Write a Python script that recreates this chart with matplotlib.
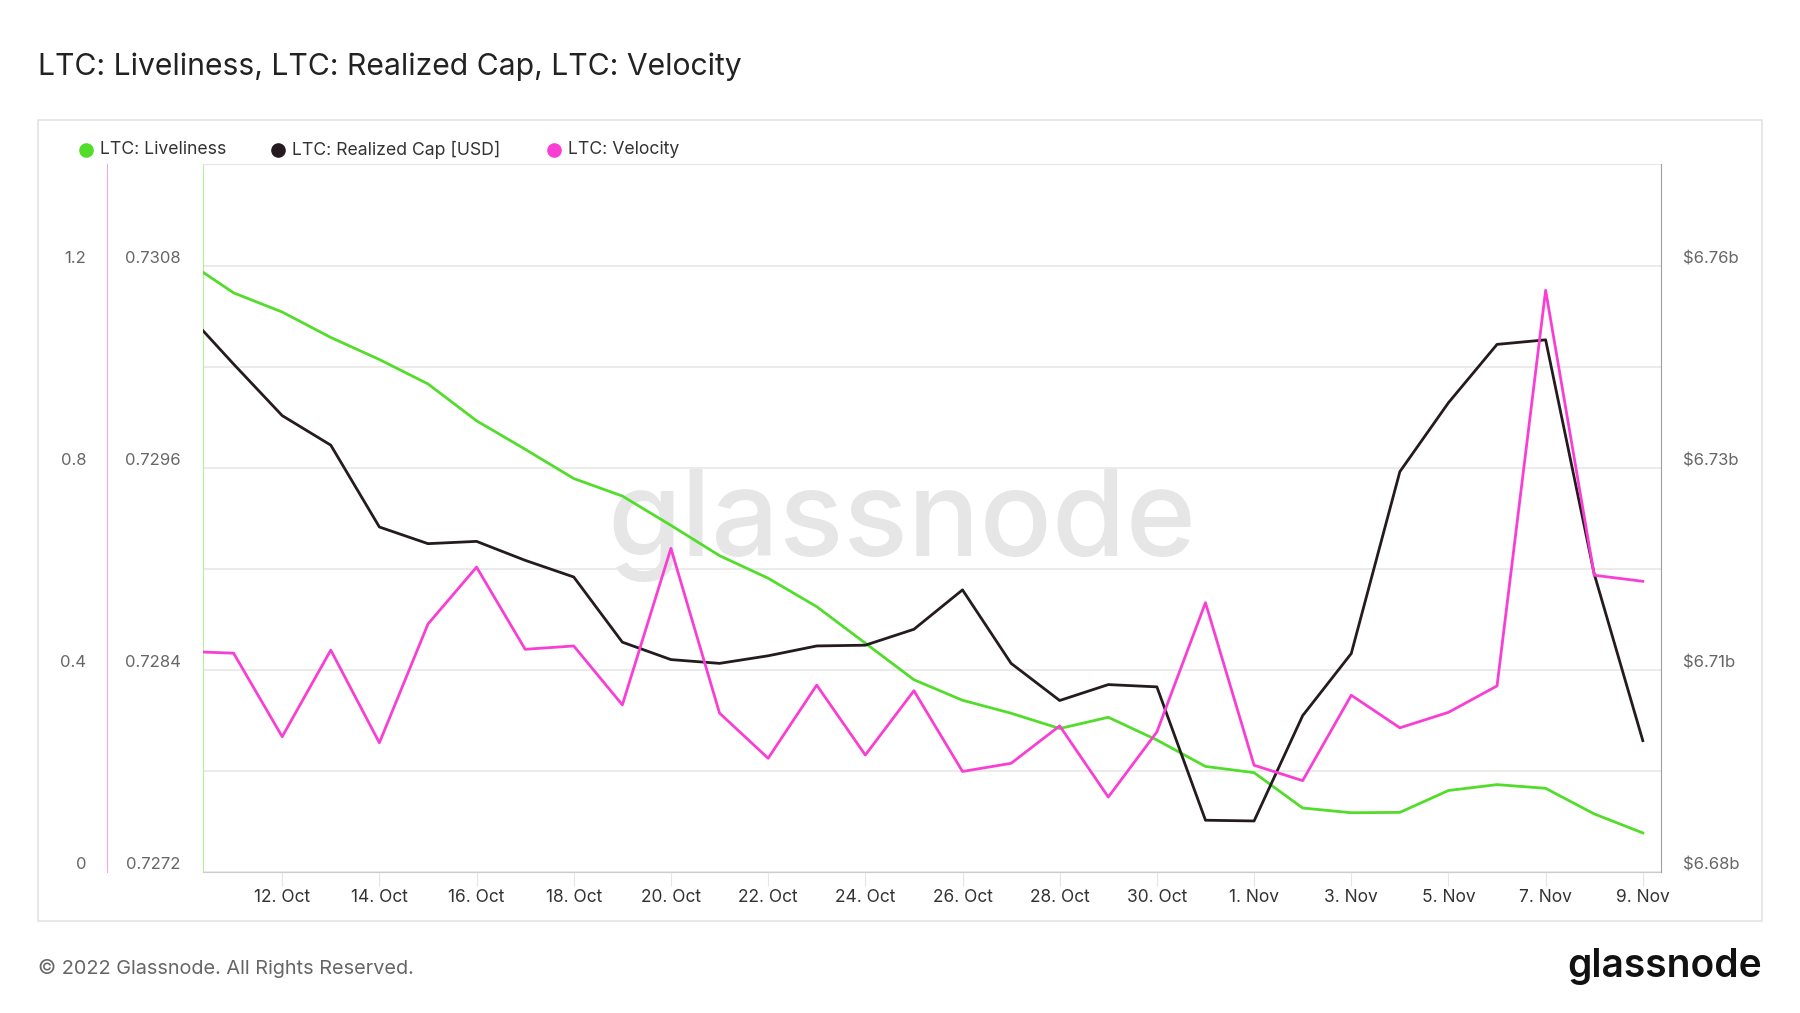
import pandas as pd
import matplotlib
matplotlib.use("Agg")
from matplotlib import pyplot as plt
from matplotlib.lines import Line2D
from matplotlib.patches import Rectangle

plt.rcParams['font.family'] = ['Inter', 'DejaVu Sans']

# daily values, 10 Oct - 9 Nov 2022
dates = pd.date_range('2022-10-10', '2022-11-09', freq='D')
liveliness = [0.730837, 0.730643, 0.730529, 0.730378, 0.730247, 0.730102, 0.729883,
              0.729714, 0.729540, 0.729436, 0.729262, 0.729082, 0.728948, 0.728779,
              0.728562, 0.728345, 0.728223, 0.728146, 0.728055, 0.728122, 0.727987,
              0.727830, 0.727793, 0.727583, 0.727555, 0.727557, 0.727687, 0.727722,
              0.727700, 0.727548, 0.727435]
realized_cap = [6.7541, 6.7471, 6.7403, 6.7364, 6.7256, 6.7234, 6.7237, 6.7212, 6.7190,
                6.7104, 6.7081, 6.7076, 6.7086, 6.7099, 6.7100, 6.7121, 6.7173, 6.7076,
                6.7027, 6.7048, 6.7045, 6.6869, 6.6868, 6.7007, 6.7089, 6.7329, 6.7420,
                6.7497, 6.7503, 6.7194, 6.6974]  # billions USD
velocity = [0.4377, 0.4341, 0.2689, 0.4402, 0.2568, 0.4918, 0.6045, 0.4418, 0.4484,
            0.3318, 0.6416, 0.3155, 0.2261, 0.3709, 0.2325, 0.3598, 0.2000, 0.2161,
            0.2902, 0.1493, 0.2782, 0.5341, 0.2123, 0.1818, 0.3509, 0.2864, 0.3170,
            0.3693, 1.1525, 0.5884, 0.5764]

live_ticks = [0.7272, 0.7284, 0.7296, 0.7308]
live_minor = [0.7278, 0.7290, 0.7302]
cap_ticks = [6.68, 6.70667, 6.73333, 6.76]
cap_labels = ['$6.68b', '$6.71b', '$6.73b', '$6.76b']
vel_ticks = [0, 0.4, 0.8, 1.2]
vel_labels = ['0', '0.4', '0.8', '1.2']
xtick_dates = pd.date_range('2022-10-12', '2022-11-09', freq='2D')
xtick_labels = ['12. Oct', '14. Oct', '16. Oct', '18. Oct', '20. Oct', '22. Oct', '24. Oct',
                '26. Oct', '28. Oct', '30. Oct', '1. Nov', '3. Nov', '5. Nov', '7. Nov', '9. Nov']

green = '#52dd2b'
dark = '#241a1f'
pink = '#f93fd3'
grid_c = '#e6e6e6'
label_c = '#666666'

fig = plt.figure(figsize=(18, 10.13), dpi=100)
ax = fig.add_axes([0.1129, 0.1387, 0.8099, 0.6992])
ax2 = ax.twinx()
ax3 = ax.twinx()

ax.plot(dates, liveliness, color=green, lw=2.0, zorder=3)
ax2.plot(dates, realized_cap, color=dark, lw=2.0, zorder=3)
ax3.plot(dates, velocity, color=pink, lw=2.0, zorder=3)

ax.set_xlim(pd.Timestamp('2022-10-10') + pd.Timedelta(hours=9),
            pd.Timestamp('2022-11-09') + pd.Timedelta(hours=9))
ax.set_ylim(0.7272, 0.731407)
ax2.set_ylim(6.68, 6.77348)
ax3.set_ylim(0, 1.402)

# liveliness axis (inner left)
ax.set_yticks(live_ticks, [f'{t:.4f}' for t in live_ticks])
ax.set_yticks(live_minor, minor=True)
ax.grid(True, which='both', axis='y', color=grid_c, lw=1.1)
ax.tick_params(axis='y', which='both', length=0, pad=16, labelsize=12, labelcolor=label_c)
ax.spines['left'].set_color('#b5ee9f')
ax.spines['top'].set_color(grid_c)
ax.spines['bottom'].set_color('#cccccc')
ax.spines['right'].set_visible(False)

# x axis
ax.set_xticks(xtick_dates, xtick_labels)
ax.tick_params(axis='x', length=10, color=grid_c, pad=2, labelsize=12.5, labelcolor='#333333')

# realized cap axis (right)
ax2.set_yticks(cap_ticks, cap_labels)
ax2.tick_params(axis='y', length=0, pad=16, labelsize=12, labelcolor=label_c)
ax2.spines['right'].set_color('#a0a0a0')
for s in ['left', 'top', 'bottom']:
    ax2.spines[s].set_visible(False)

# velocity axis (outer left), 96 px outward
ax3.spines['left'].set_position(('outward', 69))
ax3.spines['left'].set_visible(True)
ax3.spines['left'].set_color('#f9a6e3')
ax3.yaxis.set_ticks_position('left')
ax3.yaxis.set_label_position('left')
ax3.set_yticks(vel_ticks, vel_labels)
ax3.tick_params(axis='y', length=0, pad=15, labelsize=12, labelcolor=label_c)
for s in ['right', 'top', 'bottom']:
    ax3.spines[s].set_visible(False)

for a in (ax, ax2, ax3):
    plt.setp(a.get_yticklabels(), va='bottom')
    a.patch.set_visible(False)

# watermark
ax.text(0.479, 0.49, 'glassnode', transform=ax.transAxes, fontsize=86, color='#e6e6e6',
        ha='center', va='center', fontweight='medium', zorder=1)

# card border
fig.add_artist(Rectangle((38 / 1800, 1 - 920.5 / 1013), (1762 - 38) / 1800, (920.5 - 120.5) / 1013,
                         transform=fig.transFigure, fill=False, edgecolor='#e3e3e3', lw=1.2))

# title
fig.text(38 / 1800, 1 - 67 / 1013, 'LTC: Liveliness, LTC: Realized Cap, LTC: Velocity',
         fontsize=21.7, color='#222222', va='center', ha='left')

# legend
legend_items = [('LTC: Liveliness', green, 86), ('LTC: Realized Cap [USD]', dark, 278),
                ('LTC: Velocity', pink, 554)]
for lab, col, xm in legend_items:
    fig.add_artist(Line2D([xm / 1800], [1 - 150 / 1013], marker='o', markersize=9.5,
                          color=col, linestyle='none', transform=fig.transFigure))
    fig.text((xm + 14) / 1800, 1 - 150 / 1013, lab, fontsize=12.7, color='#333333',
             va='center', ha='left')

# footer
fig.text(38 / 1800, 1 - 968 / 1013, '\u00a9 2022 Glassnode. All Rights Reserved.',
         fontsize=14.3, color='#666666', va='center', ha='left')
fig.text(1762 / 1800, 1 - 966 / 1013, 'glassnode', fontsize=28, color='#111111',
         va='center', ha='right', fontweight='semibold')

fig.savefig('out.png', dpi=100, facecolor='white')
